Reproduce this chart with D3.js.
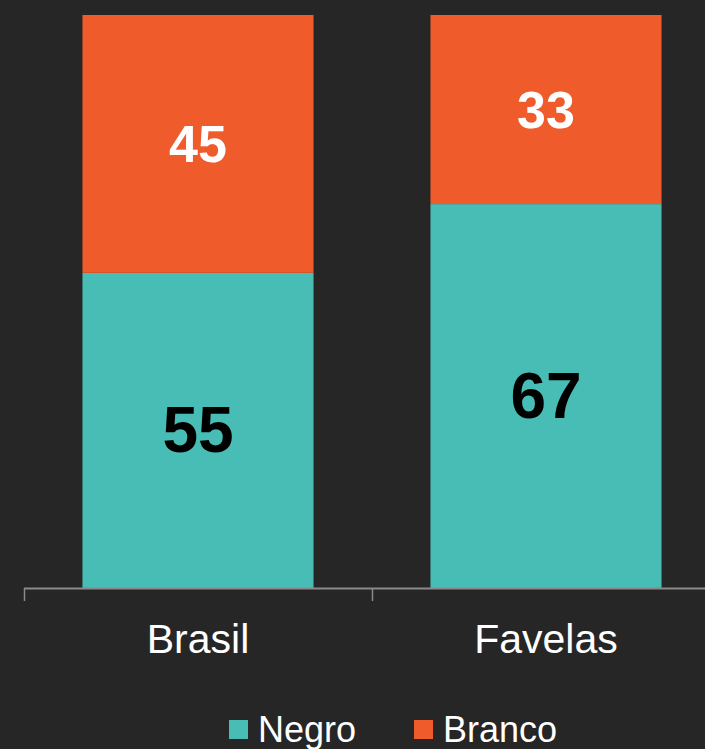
<!DOCTYPE html>
<html><head><meta charset="utf-8">
<script src="https://cdn.jsdelivr.net/npm/d3@7"></script>
<style>html,body{margin:0;padding:0;background:#262626;overflow:hidden}</style>
</head><body>
<script>
const categories = ["Brasil", "Favelas"];
const seriesNames = ["Negro", "Branco"];
const negro = [55, 67];
const branco = [45, 33];
const colors = ["#47BDB6", "#EF5B2B"];
const labelColors = ["#000000", "#FFFFFF"];
const labelSizes = [64, 52];

const W = 705, H = 749;
const svg = d3.select("body").append("svg").attr("width", W).attr("height", H)
  .style("background", "#262626");

const x = d3.scaleBand().domain(categories).range([24, 720]).paddingInner(0.336).paddingOuter(0.168);
const y = d3.scaleLinear().domain([0, 100]).range([588, 15]);

const table = categories.map((c, i) => ({cat: c, Negro: negro[i], Branco: branco[i]}));
const stacked = d3.stack().keys(seriesNames)(table);

stacked.forEach((s, si) => {
  const g = svg.append("g");
  g.selectAll("rect").data(s).join("rect")
    .attr("x", d => x(d.data.cat))
    .attr("width", x.bandwidth())
    .attr("y", d => y(d[1]))
    .attr("height", d => y(d[0]) - y(d[1]))
    .attr("fill", colors[si]);
  g.selectAll("text").data(s).join("text")
    .attr("x", d => x(d.data.cat) + x.bandwidth() / 2)
    .attr("y", d => (y(d[0]) + y(d[1])) / 2)
    .attr("text-anchor", "middle")
    .attr("dominant-baseline", "central")
    .attr("font-family", "Liberation Sans, Arial, sans-serif")
    .attr("font-weight", "bold")
    .attr("font-size", labelSizes[si])
    .attr("fill", labelColors[si])
    .text(d => d[1] - d[0]);
});

// axis
const axisG = svg.append("g");
axisG.append("line").attr("x1", 24).attr("x2", 720).attr("y1", y(0) + 0.5).attr("y2", y(0) + 0.5)
  .attr("stroke", "#8a8a8a").attr("stroke-width", 2);
const step = x.step();
const tickPos = d3.range(categories.length + 1).map(i => 24 + i * step);
axisG.selectAll("line.tick").data(tickPos).join("line").attr("class", "tick")
  .attr("x1", d => d + 0.5).attr("x2", d => d + 0.5)
  .attr("y1", y(0)).attr("y2", y(0) + 13)
  .attr("stroke", "#8a8a8a").attr("stroke-width", 1.5);
axisG.selectAll("text").data(categories).join("text")
  .attr("x", d => x(d) + x.bandwidth() / 2)
  .attr("y", 653)
  .attr("text-anchor", "middle")
  .attr("font-family", "Liberation Sans, Arial, sans-serif")
  .attr("font-size", 41)
  .attr("fill", "#FFFFFF")
  .text(d => d);

// legend
const legendX = [229, 414];
const leg = svg.append("g");
seriesNames.forEach((n, i) => {
  leg.append("rect").attr("x", legendX[i]).attr("y", 720).attr("width", 19).attr("height", 19).attr("fill", colors[i]);
  leg.append("text").attr("x", legendX[i] + 29).attr("y", 742)
    .attr("font-family", "Liberation Sans, Arial, sans-serif")
    .attr("font-size", 36).attr("fill", "#FFFFFF").text(n);
});
</script>
</body></html>
